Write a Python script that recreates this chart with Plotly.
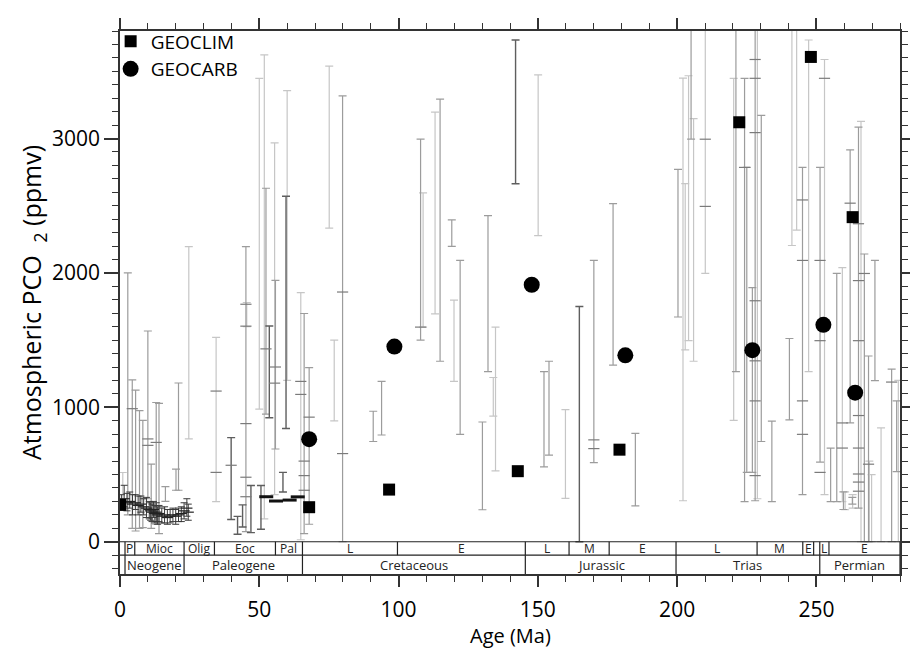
import numpy as np
import plotly.graph_objects as go

# ---------------- data ----------------
# Neogene compact proxy estimates (dark)
neo_x = [0.5, 1.5, 2.5, 3.5, 4.5, 5.5, 6.5, 7.5, 8.5, 9.5, 10.5, 11.0, 11.5, 12.0, 12.5,
         13.0, 13.5, 14.0, 15.0, 16.0, 17.0, 18.0, 19.0, 20.0, 21.0, 22.0, 23.0, 24.0, 24.5]
neo_mid = [300, 320, 290, 300, 280, 290, 270, 280, 260, 250, 240, 230, 220, 240, 210,
           220, 200, 210, 190, 200, 180, 190, 200, 190, 200, 210, 230, 250, 220]
neo_lo = [250, 260, 230, 250, 200, 240, 200, 220, 200, 180, 170, 160, 150, 180, 140,
          150, 130, 150, 140, 140, 130, 140, 150, 130, 150, 150, 170, 190, 160]
neo_hi = [350, 420, 360, 370, 350, 350, 340, 340, 320, 330, 300, 290, 280, 300, 270,
          290, 260, 270, 250, 260, 240, 240, 250, 240, 250, 260, 290, 320, 280]

# long proxy ranges, dark grey
dark_x = [39.9, 42.2, 44.0, 47.0, 50.6, 53.6, 58.5, 59.6, 142.0, 164.9]
dark_lo = [165, 56, 110, 68, 93, 923, 370, 843, 2664, 0]
dark_hi = [775, 189, 274, 419, 419, 1605, 516, 2570, 3733, 1750]

# long proxy ranges, medium grey
med_x = [2.8, 4.4, 5.6, 7.0, 8.2, 10.0, 11.2, 13.0, 14.0, 16.3, 20.1, 21.0,
         45.2, 52.4, 55.8, 66.1, 67.9, 79.9, 90.9, 93.9, 107.9, 114.9, 119.1, 122.1,
         130.1, 132.1, 152.2, 154.0, 170.1, 177.0, 185.0,
         200.3, 205.0, 221.1, 224.2, 225.0, 227.0, 228.0, 230.2, 234.0, 240.3, 245.0,
         251.3, 255.1, 257.3, 259.7, 262.1, 262.9, 265.1, 267.2, 268.7, 271.0, 277.0, 278.8]
med_lo = [200, 100, 80, 100, 105, 320, 100, 130, 60, 300, 383, 383,
          75, 950, 690, 60, 130, 0, 746, 794, 1500, 1343, 2197, 799,
          238, 1266, 557, 644, 588, 1314, 267,
          1672, 2995, 1266, 298, 516, 516, 305, 746, 298, 907, 351,
          593, 298, 298, 240, 884, 280, 250, 0, 0, 1198, 0, 521]
med_hi = [2000, 1205, 1128, 975, 903, 1568, 577, 1036, 1029, 410, 540, 1181,
          2195, 2630, 1945, 1698, 1296, 3317, 971, 1193, 2995, 3293, 2395, 2093,
          891, 2427, 1266, 1343, 2093, 2516, 806,
          2770, 3900, 3900, 3448, 2785, 1890, 3900, 3172, 898, 1512, 2785,
          2785, 697, 1996, 371, 2915, 330, 3085, 2141, 1382, 2093, 1285, 1048]

# long proxy ranges, light grey
light_x = [1.0, 24.7, 34.5, 45.5, 50.0, 51.8, 55.5, 60.0, 64.9, 75.1, 76.9,
           108.8, 113.1, 119.9, 134.0, 134.8, 150.1, 159.9,
           202.1, 202.9, 204.1, 205.9, 210.1, 220.3, 228.8, 241.2, 242.9, 247.2,
           252.9, 259.3, 260.3, 263.0, 266.0, 269.0, 269.8, 273.2, 279.4]
light_lo = [290, 765, 298, 1600, 987, 170, 350, 1200, 15, 2333, 900,
            1597, 1696, 1193, 934, 528, 2277, 322,
            305, 1428, 1496, 1343, 1996, 903, 320, 2204, 2318, 1266,
            351, 298, 238, 250, 0, 0, 0, 0, 0]
light_hi = [515, 2195, 1520, 1780, 3448, 3622, 2967, 3357, 1853, 3538, 1500,
            2596, 3196, 1798, 1222, 1597, 3474, 983,
            3450, 2664, 3467, 3148, 3900, 3448, 3900, 3900, 3900, 3733,
            3588, 2040, 371, 350, 3128, 600, 500, 847, 1200]

# central estimate ticks on long ranges
tick_x = [4.4, 10.0, 10.0, 13.0, 34.5, 34.5, 39.9, 45.2, 45.2, 45.2, 45.2, 45.2,
          52.4, 55.5, 55.8, 64.9, 64.9, 66.1, 66.1, 66.1, 67.9, 79.9, 79.9, 107.9,
          170.1, 170.1, 210.1, 210.1, 224.2, 228.0, 228.0, 228.0, 228.0, 228.0,
          228.0, 228.0, 245.0, 245.0, 245.0, 245.0, 251.3, 251.3, 251.3, 252.9,
          259.3, 259.3, 262.1, 265.1, 265.1, 265.1, 265.1, 265.1, 265.1, 265.1,
          265.1, 267.2, 268.7, 277.0]
tick_y = [990, 765, 717, 739, 1121, 516, 569, 1767, 1604, 879, 480, 335,
          1435, 1180, 1300, 1193, 1096, 600, 492, 383, 927, 1858, 656, 1597,
          758, 693, 2995, 2495, 2785, 3588, 3448, 3044, 1793, 1346, 1048, 492,
          2543, 2093, 1048, 799, 2093, 1496, 516, 3448,
          884, 697, 2519, 2366, 1943, 1496, 939, 697, 504, 444, 376,
          1996, 577, 1188]

# bold central estimates
bold_x = [52.5, 56.0, 60.9, 63.8]
bold_y = [335, 303, 310, 334]

geoclim_x = [0.0, 67.9, 96.6, 142.8, 179.3, 222.3, 248.0, 263.0]
geoclim_y = [274, 257, 388, 525, 685, 3121, 3607, 2415]

geocarb_x = [67.9, 98.5, 147.8, 181.4, 227.0, 252.5, 263.9]
geocarb_y = [763, 1452, 1912, 1387, 1425, 1614, 1109]

period_names = ["Neogene", "Paleogene", "Cretaceous", "Jurassic", "Trias", "Permian"]
period_bounds = [1.8, 23.0, 65.5, 145.5, 199.6, 251.2, 280.0]
epoch_names = ["P", "Mioc", "Olig", "Eoc", "Pal", "L", "E", "L", "M", "E",
               "L", "M", "E", "", "L", "E"]
epoch_bounds = [1.8, 5.3, 23.0, 33.9, 55.8, 65.5, 99.6, 145.5, 161.2, 175.6, 199.6,
                228.7, 245.1, 249.0, 251.2, 254.5, 280.0]

X_TITLE = "Age (Ma)"
Y_TITLE = "Atmospheric PCO\u00a0\u00a0<sub>2</sub> (ppmv)"

X_RANGE = [0, 280]
Y_RANGE = [-240, 3800]
ROW1 = [0, -100]
ROW2 = [-100, -240]

# ---------------- figure ----------------
fig = go.Figure()


def add_bars(xs, lo, hi, color, width=1.2, cap=4):
    lo = np.asarray(lo, float)
    hi = np.asarray(hi, float)
    mid = (lo + hi) / 2
    half = (hi - lo) / 2
    fig.add_trace(go.Scatter(
        x=xs, y=mid, mode="markers",
        marker=dict(size=1, opacity=0),
        error_y=dict(type="data", array=half, symmetric=True,
                     color=color, thickness=width, width=cap),
        showlegend=False, hoverinfo="skip"))


add_bars(light_x, light_lo, light_hi, "#c6c6c6")
add_bars(med_x, med_lo, med_hi, "#9c9c9c")
add_bars(dark_x, dark_lo, dark_hi, "#5e5e5e", width=1.4)
add_bars(neo_x, neo_lo, neo_hi, "#3a3a3a", width=1.0, cap=3.5)

fig.add_trace(go.Scatter(
    x=tick_x, y=tick_y, mode="markers",
    marker=dict(symbol="line-ew", size=8, line=dict(width=1.2, color="#7a7a7a")),
    showlegend=False, hoverinfo="skip"))
fig.add_trace(go.Scatter(
    x=neo_x, y=neo_mid, mode="markers",
    marker=dict(symbol="line-ew", size=8, line=dict(width=1.2, color="#222")),
    showlegend=False, hoverinfo="skip"))
fig.add_trace(go.Scatter(
    x=bold_x, y=bold_y, mode="markers",
    marker=dict(symbol="line-ew", size=10, line=dict(width=3, color="#111")),
    showlegend=False, hoverinfo="skip"))

fig.add_trace(go.Scatter(
    x=geoclim_x, y=geoclim_y, mode="markers", name="GEOCLIM",
    marker=dict(symbol="square", size=12, color="black")))
fig.add_trace(go.Scatter(
    x=geocarb_x, y=geocarb_y, mode="markers", name="GEOCARB",
    marker=dict(symbol="circle", size=16, color="black")))

# ---- geologic timescale ----
line_style = dict(color="#222", width=1.2)
for yv in (ROW1[0], ROW1[1]):
    fig.add_shape(type="line", x0=X_RANGE[0], x1=X_RANGE[1], y0=yv, y1=yv,
                  xref="x", yref="y", line=line_style, layer="above")
for xb in epoch_bounds:
    fig.add_shape(type="line", x0=xb, x1=xb, y0=ROW1[0], y1=ROW1[1],
                  xref="x", yref="y", line=line_style, layer="above")
for xb in period_bounds:
    fig.add_shape(type="line", x0=xb, x1=xb, y0=ROW2[0], y1=ROW2[1],
                  xref="x", yref="y", line=line_style, layer="above")
for i, name in enumerate(epoch_names):
    if name:
        fig.add_annotation(x=(epoch_bounds[i] + epoch_bounds[i + 1]) / 2,
                           y=sum(ROW1) / 2, text=name, showarrow=False,
                           font=dict(size=12, color="#222"), xref="x", yref="y")
for i, name in enumerate(period_names):
    fig.add_annotation(x=(period_bounds[i] + period_bounds[i + 1]) / 2,
                       y=sum(ROW2) / 2, text=name, showarrow=False,
                       font=dict(size=13, color="#222"), xref="x", yref="y")

# x-axis title placed as paper annotation so it stays inside the page
fig.add_annotation(x=0.5, y=-0.1125, xref="paper", yref="paper", text=X_TITLE,
                   showarrow=False, xanchor="center", yanchor="middle",
                   font=dict(size=20, color="black"))

axis_common = dict(
    showline=True, linecolor="#333", linewidth=1.5, mirror="ticks",
    ticks="outside", tickcolor="#333", tickwidth=1.5,
    showgrid=False, zeroline=False,
)

fig.update_layout(
    width=918, height=650,
    margin=dict(l=112, r=24, t=10, b=84),
    plot_bgcolor="white", paper_bgcolor="white",
    font=dict(family="Open Sans", size=21, color="black"),
    xaxis=dict(range=X_RANGE, tickmode="linear", tick0=0, dtick=50, ticklen=11,
               ticklabelstandoff=5,
               minor=dict(dtick=10, ticks="outside", ticklen=6, tickcolor="#333", tickwidth=1.2),
               **axis_common),
    yaxis=dict(range=Y_RANGE, tickmode="linear", tick0=0, dtick=1000, ticklen=14,
               minor=dict(dtick=100, ticks="outside", ticklen=6, tickcolor="#333", tickwidth=1.2),
               title=dict(text=Y_TITLE, standoff=3),
               **axis_common),
    legend=dict(x=-0.012, y=1.016, xanchor="left", yanchor="top",
                font=dict(size=19), bgcolor="rgba(0,0,0,0)", tracegroupgap=0),
    showlegend=True,
)

fig.write_html("out.html")
